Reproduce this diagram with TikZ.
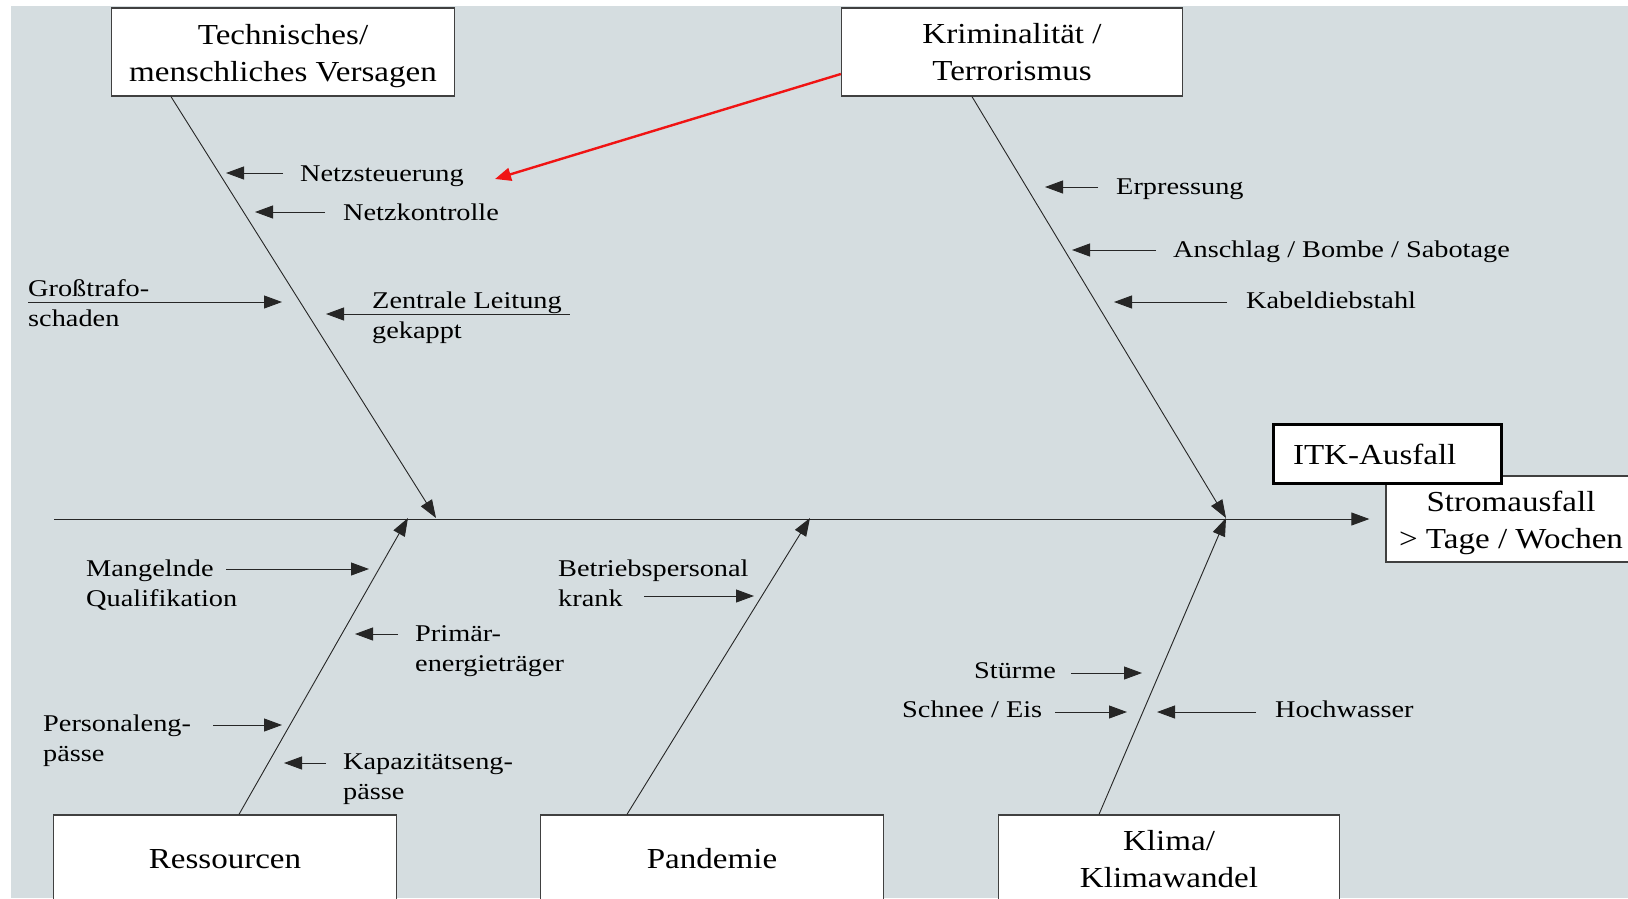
\documentclass[tikz,border=0pt]{standalone}
\usepackage{fontspec}
\usepackage{tikz}
\usetikzlibrary{arrows.meta}
\setmainfont{Liberation Serif}
\newfontfamily\boxfont[FakeStretch=1.14]{Liberation Serif}
\newfontfamily\lblfont[FakeStretch=1.18]{Liberation Serif}
\definecolor{FishBg}{RGB}{213,221,224}
\definecolor{HintRed}{RGB}{240,20,20}

\begin{document}
\begin{tikzpicture}[x=1pt,y=-1pt,
box/.style={rectangle,draw=black!75,fill=white,line width=1.3pt,minimum width=343pt,minimum height=88pt,inner sep=0pt,align=center,font=\boxfont\fontsize{29}{36.5}\selectfont},
lowtext/.style={execute at begin node=\rule{0pt}{65pt}},
lbl/.style={inner sep=0pt,anchor=west,align=left,font=\lblfont\fontsize{24}{30}\selectfont},
bone/.style={line width=0.9pt,draw=black!85,-{Triangle[length=18pt,width=13pt]}},
cause/.style={line width=0.9pt,draw=black!85,-{Triangle[length=18pt,width=13pt]},shorten <=#1},
cause/.default=0pt,
hint/.style={line width=2.4pt,draw=HintRed,-{Triangle[length=16pt,width=13pt]}}
]
\useasboundingbox (0,0) rectangle (1628,898);
\clip (0,0) rectangle (1628,898);
\fill[FishBg] (11,6) rectangle (1628,898);
% category boxes
\node[box,lowtext] (tech) at (283,52) {Technisches/\\menschliches Versagen};
\node[box,minimum width=341pt] (krim) at (1012,52) {Kriminalität /\\Terrorismus};
\node[box] (res) at (225,859) {Ressourcen};
\node[box] (pan) at (712,859) {Pandemie};
\node[box,minimum width=341pt] (klima) at (1169,859) {Klima/\\Klimawandel};
% effect
\node[box,lowtext,minimum width=250pt,minimum height=86pt] (strom) at (1511,519) {Stromausfall\\> Tage / Wochen};
\node[box,draw=black,line width=3pt,minimum width=228pt,minimum height=59pt,text width=188pt,align=left] (itk) at (1387,454) {ITK-Ausfall};
% spine and bones
\coordinate (tail) at (54,519);
\coordinate (j-tech) at (436,518);
\coordinate (j-res) at (408,518);
\coordinate (j-pan) at (810,518);
\coordinate (j-right) at (1226,518);
\draw[bone,shorten >=16pt] (tail) -- (strom.west);
\draw[bone] ([xshift=-112pt]tech.south) -- (j-tech);
\draw[bone] ([xshift=-40pt]krim.south) -- (j-right);
\draw[bone] ([xshift=14pt]res.north) -- (j-res);
\draw[bone] ([xshift=-85pt]pan.north) -- (j-pan);
\draw[bone] ([xshift=-70pt]klima.north) -- (j-right);
% causes
\node[lbl] (nst) at (300,176) {Netzsteuerung};
\node[lbl] (nko) at (343,212) {Netzkontrolle};
\node[lbl] (gross) at (28,303) {Großtrafo-\\schaden};
\node[lbl] (zl) at (372,318) {Zentrale Leitung\\gekappt};
\node[lbl] (erp) at (1116,189) {Erpressung};
\node[lbl] (ans) at (1173,252) {Anschlag / Bombe / Sabotage};
\node[lbl] (kab) at (1246,300) {Kabeldiebstahl};
\node[lbl] (mang) at (86,585) {Mangelnde\\Qualifikation};
\node[lbl] (prim) at (415,651) {Primär-\\energieträger};
\node[lbl] (pers) at (43,741) {Personaleng-\\pässe};
\node[lbl] (kap) at (343,779) {Kapazitätseng-\\pässe};
\node[lbl] (betr) at (558,583) {Betriebspersonal\\krank};
\node[lbl] (st) at (974,671) {Stürme};
\node[lbl] (sch) at (902,709) {Schnee / Eis};
\node[lbl] (hw) at (1275,709) {Hochwasser};
\coordinate (t-nst) at (226,173);
\coordinate (t-nko) at (255,212);
\coordinate (t-gross) at (282,302);
\coordinate (t-zl) at (326,314);
\coordinate (t-erp) at (1045,187);
\coordinate (t-ans) at (1072,250);
\coordinate (t-kab) at (1114,302);
\coordinate (t-mang) at (369,569);
\coordinate (t-prim) at (355,634);
\coordinate (t-pers) at (282,725);
\coordinate (t-kap) at (284,763);
\coordinate (t-betr) at (754,596);
\coordinate (t-st) at (1142,673);
\coordinate (t-sch) at (1127,712);
\coordinate (t-hw) at (1157,712);
\foreach \n/\g in {nst/17pt,nko/18pt,erp/18pt,ans/17pt,kab/19pt,prim/17pt,kap/17pt,hw/19pt,gross/0pt,mang/140pt,pers/170pt,betr/86pt}
  \draw[cause=\g] (\n.west |- t-\n) -- (t-\n);
\foreach \n/\g in {st/15pt,sch/13pt,zl/-8pt}
  \draw[cause=\g] (\n.east |- t-\n) -- (t-\n);
% hint to the grid control
\coordinate (t-red) at (495,179);
\draw[hint] ([yshift=-22pt]krim.west) -- (t-red);
\end{tikzpicture}
\end{document}
